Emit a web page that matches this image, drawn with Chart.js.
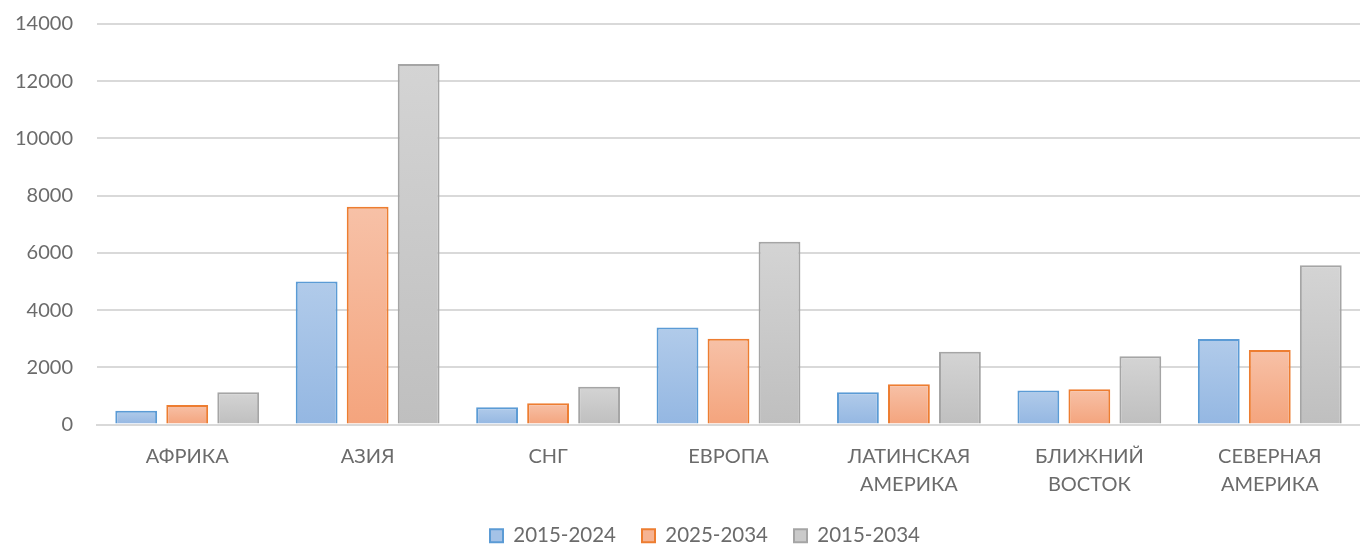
<!DOCTYPE html>
<html>
<head>
<meta charset="utf-8">
<script src="https://cdn.jsdelivr.net/npm/chart.js@4/dist/chart.umd.min.js"></script>
<style>
html,body{margin:0;padding:0;background:#fff;}
#wrap{width:1360px;height:546px;position:relative;}
</style>
</head>
<body>
<div id="wrap"><canvas id="c" width="1360" height="546"></canvas></div>
<script>
const categories = [
  'АФРИКА', 'АЗИЯ', 'СНГ', 'ЕВРОПА',
  ['ЛАТИНСКАЯ', 'АМЕРИКА'], ['БЛИЖНИЙ', 'ВОСТОК'], ['СЕВЕРНАЯ', 'АМЕРИКА']
];
const seriesNames = ['2015-2024', '2025-2034', '2015-2034'];
const values2015_2024 = [480, 5000, 600, 3390, 1130, 1190, 2990];
const values2025_2034 = [680, 7610, 740, 3000, 1410, 1230, 2600];
const values2015_2034 = [1130, 12600, 1320, 6390, 2540, 2390, 5570];
const yTicks = [0, 2000, 4000, 6000, 8000, 10000, 12000, 14000];

const styles = [
  {border:'#5B9BD5', top:'#B1CBEA', bottom:'#94B7E2', legend:'#A4C2E7'},
  {border:'#ED7D31', top:'#F7C1A7', bottom:'#F4A47D', legend:'#F6B392'},
  {border:'#A5A5A5', top:'#D4D4D4', bottom:'#BFBFBF', legend:'#CACACA'}
];

function gradFill(i){
  return function(ctx){
    const chart = ctx.chart;
    const s = styles[i];
    if (ctx.type !== 'data' || !chart.scales || !chart.scales.y) return s.legend;
    const y = chart.scales.y;
    const top = y.getPixelForValue(ctx.raw);
    const base = y.getPixelForValue(0);
    if (!isFinite(top) || !isFinite(base) || top === base) return s.legend;
    const g = chart.ctx.createLinearGradient(0, top, 0, base);
    g.addColorStop(0, s.top);
    g.addColorStop(1, s.bottom);
    return g;
  };
}

const allSeries = [values2015_2024, values2025_2034, values2015_2034];
const datasets = allSeries.map((vals, i) => ({
  label: seriesNames[i],
  data: vals,
  backgroundColor: gradFill(i),
  borderColor: styles[i].border,
  borderWidth: 2,
  borderSkipped: 'bottom',
  categoryPercentage: 0.848,
  barPercentage: 0.82
}));

const FONT = 'Lato, "Open Sans", sans-serif';
const TXT = '#6b6b6b';

const legendShift = {
  id: 'legendShift',
  afterLayout(chart){
    const lg = chart.legend;
    if (lg) { lg.left += 25; lg.right += 25; }
  }
};

new Chart(document.getElementById('c'), {
  type: 'bar',
  data: { labels: categories, datasets },
  plugins: [legendShift],
  options: {
    responsive: false,
    animation: false,
    devicePixelRatio: 1,
    layout: { padding: { top: 24, right: 0, left: 0, bottom: -10 } },
    plugins: {
      tooltip: { enabled: false },
      legend: {
        position: 'bottom',
        labels: {
          color: TXT,
          font: { family: FONT, size: 20.5, lineHeight: 1 },
          boxWidth: 13,
          boxHeight: 13,
          padding: 26,
          generateLabels: function(chart){
            return chart.data.datasets.map((d, i) => ({
              text: d.label,
              fillStyle: styles[i].legend,
              strokeStyle: styles[i].border,
              lineWidth: 2,
              fontColor: TXT,
              hidden: false,
              datasetIndex: i
            }));
          }
        }
      }
    },
    scales: {
      x: {
        grid: { display: false, drawTicks: false },
        border: { display: true, color: '#D9D9D9', width: 2 },
        ticks: {
          color: TXT,
          font: { family: FONT, size: 20, lineHeight: 1.4 },
          padding: 18,
          maxRotation: 0,
          autoSkip: false
        },
        afterFit: function(scale){ scale.height = 75; }
      },
      y: {
        min: 0,
        max: 14000,
        afterBuildTicks: function(scale){ scale.ticks = yTicks.map(v => ({value: v})); },
        grid: { color: '#D9D9D9', lineWidth: 2, drawTicks: false },
        border: { display: false },
        ticks: {
          color: TXT,
          font: { family: FONT, size: 20 },
          padding: 24,
          callback: function(v){ return String(v); }
        },
        afterFit: function(scale){ scale.width = 97; scale.paddingTop = 0; scale.paddingBottom = 0; }
      }
    }
  }
});
</script>
</body>
</html>
